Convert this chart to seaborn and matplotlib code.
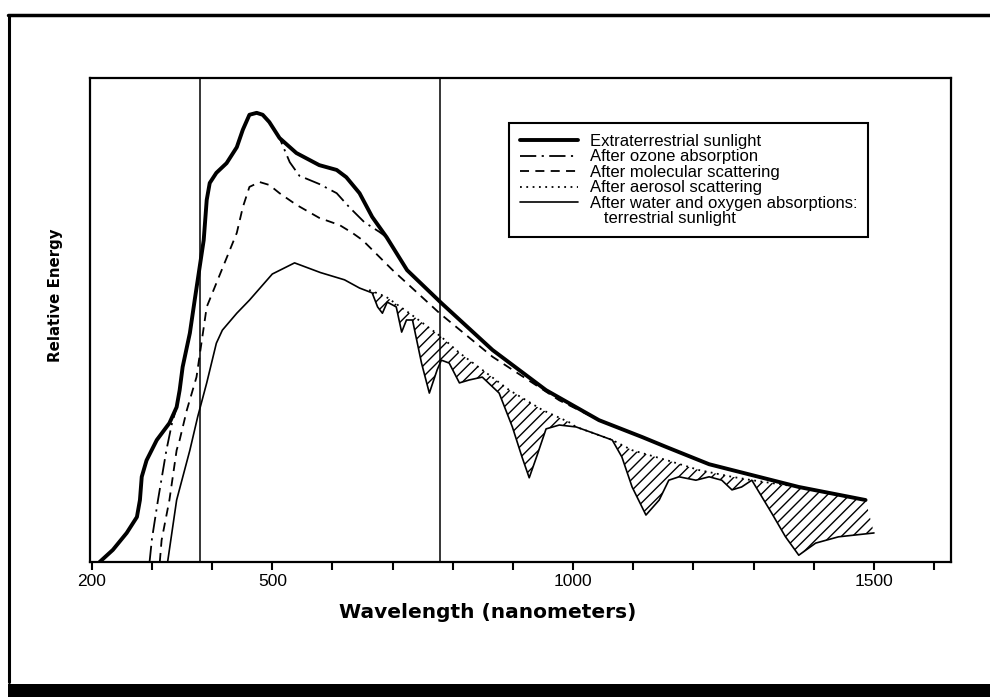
import numpy as np
import pandas as pd
import matplotlib
matplotlib.use('Agg')
import matplotlib.pyplot as plt
import seaborn as sns
from matplotlib.lines import Line2D
from matplotlib.patches import Rectangle

# wavelength (nm) / relative energy (0-100 of axis height)
sun_wl = [213, 235, 258, 275, 280, 283, 291, 308, 329, 341, 346, 351, 363, 371, 386, 391, 396, 407, 424, 441,
          451, 462, 474, 484, 495, 512, 540, 578, 607, 623, 645, 666, 690, 724, 781, 866, 955, 1043, 1115, 1154,
          1226, 1264, 1375, 1486]
sun_E = [0, 2.5, 6, 9.3, 12.8, 17.6, 21, 25.2, 28.7, 32, 35.5, 40.3, 47.3, 54.1, 66.5, 74.8, 78.3, 80.4, 82.4, 85.7,
         89.3, 92.4, 92.8, 92.4, 90.9, 87.6, 84.5, 82, 81, 79.5, 76.2, 71.3, 67.1, 60.3, 53.5, 43.8, 35.5, 29.3, 25.8, 23.8,
         20.2, 19, 15.5, 12.8]

ozone_wl = [296, 300, 310, 324, 333, 341, 346, 351, 363, 371, 386, 391, 396, 407, 424, 441, 451, 462, 474, 484, 495, 512,
            529, 545, 578, 607, 628, 653, 678, 690]
ozone_E = [0, 4.8, 12.8, 23.1, 28.5, 32, 35.5, 40.3, 47.3, 54.1, 66.5, 74.8, 78.3, 80.4, 82.4, 85.7, 89.3, 92.4, 92.8,
           92.4, 90.9, 87.6, 82.6, 79.8, 78.1, 76.2, 73.3, 70.2, 68.2, 67.1]

molec_wl = [313, 316, 329, 341, 346, 358, 374, 391, 441, 451, 462, 479, 495, 512, 540, 578, 612, 633, 650,
            700, 778, 866, 977, 1043]
molec_E = [0, 4.5, 12.8, 23.1, 25.2, 31.4, 38.2, 52.7, 68, 73.3, 77.5, 78.5, 77.9, 76.2, 73.8, 71.1, 69.6, 68, 66.5,
           60.3, 51.4, 42.4, 33.4, 29.3]

aerosol_wl = [661, 689, 728, 781, 811, 849, 894, 949, 993, 1005, 1032, 1065, 1098, 1154, 1209, 1264, 1297, 1375, 1486]
aerosol_E = [56.2, 54.8, 51.4, 46.5, 43.2, 39.7, 35.5, 31.4, 28.9, 27.9, 26.7, 25.2, 23.1, 21.1, 19, 17.6, 16.9, 15.5, 12.8]

terr_wl = [326, 341, 363, 376, 391, 407, 417, 441, 462, 500, 537, 580, 620, 645, 666, 675, 683, 691, 706, 715,
           723, 733, 748, 761, 774, 781, 794, 811, 827, 849, 877, 899, 915, 927, 940, 955, 977, 1005, 1032, 1065,
           1081, 1098, 1121, 1143, 1159, 1176, 1204, 1226, 1247, 1264, 1280, 1297, 1330, 1353, 1375, 1403, 1441, 1500]
terr_E = [0, 12.8, 23.1, 30, 37, 45.2, 47.9, 51.4, 54.1, 59.5, 61.8, 59.8, 58.3, 56.6, 55.6, 52.7, 51.4, 53.7, 52.7, 47.5,
          50, 50, 41.1, 34.9, 39.7, 41.7, 41.1, 37, 37.6, 38.2, 34.9, 27.9, 21.7, 17.4, 22, 27.5, 28.3, 27.9, 26.7, 25.2,
          21.7, 15.5, 9.7, 12.8, 16.9, 17.6, 16.9, 17.6, 16.9, 14.9, 15.5, 16.9, 10.1, 5.2, 1.4, 3.9, 5.2, 6.0]

visible_limits = [380, 778]
tick_values = list(range(200, 1700, 100))
tick_labels = ['200', '', '', '500', '', '', '', '', '1000', '', '', '', '', '1500', '']

labels = ['Extraterrestrial sunlight', 'After ozone absorption', 'After molecular scattering',
          'After aerosol scattering', 'After water and oxygen absorptions:']
label_extra = '   terrestrial sunlight'

sns.set_style('white')
plt.rcParams['font.family'] = ['Liberation Sans', 'DejaVu Sans']
plt.rcParams['hatch.linewidth'] = 1.0
plt.rcParams['text.color'] = 'black'
plt.rcParams['axes.labelcolor'] = 'black'
plt.rcParams['xtick.color'] = 'black'

fig = plt.figure(figsize=(9.9, 6.97), dpi=100)
ax = fig.add_axes([0.0909, 0.1937, 0.8697, 0.6944])

sns.lineplot(x=sun_wl, y=sun_E, ax=ax, color='black', linewidth=2.8, label=labels[0],
             sort=False, estimator=None, zorder=6)
sns.lineplot(x=ozone_wl, y=ozone_E, ax=ax, color='black', linewidth=1.3, label=labels[1],
             sort=False, estimator=None, linestyle=(0, (9, 3, 1.2, 3)), zorder=4)
sns.lineplot(x=molec_wl, y=molec_E, ax=ax, color='black', linewidth=1.3, label=labels[2],
             sort=False, estimator=None, linestyle=(0, (5, 3.5)), zorder=4)
sns.lineplot(x=aerosol_wl, y=aerosol_E, ax=ax, color='black', linewidth=1.3, label=labels[3],
             sort=False, estimator=None, linestyle=(0, (1, 2.5)), zorder=4)
sns.lineplot(x=terr_wl, y=terr_E, ax=ax, color='black', linewidth=1.2, label=labels[4],
             sort=False, estimator=None, zorder=5)

# hatched band: between aerosol curve and terrestrial curve
terr_wl_a = np.array(terr_wl)
terr_E_a = np.array(terr_E)
mask = terr_wl_a >= aerosol_wl[0]
poly_x = np.r_[aerosol_wl, terr_wl_a[mask][::-1]]
poly_y = np.r_[aerosol_E, terr_E_a[mask][::-1]]
ax.fill(poly_x, poly_y, facecolor='none', edgecolor='black', linewidth=0, hatch='///', zorder=3)

for v in visible_limits:
    ax.axvline(v, color='black', linewidth=1.1, zorder=2)

ax.set_xlim(197, 1628)
ax.set_ylim(0, 100)
ax.set_xticks(tick_values)
ax.set_xticklabels(tick_labels)
ax.set_yticks([])
ax.tick_params(axis='x', bottom=True, direction='out', length=6, width=1.5, labelsize=12.5, pad=3,
               color='black', labelcolor='black')
for s in ax.spines.values():
    s.set_linewidth(1.6)
    s.set_color('black')

ax.set_xlabel('Wavelength (nanometers)', fontsize=14.5, fontweight='bold', family='DejaVu Sans')
ax.xaxis.set_label_coords(0.462, -0.085)
ax.set_ylabel('Relative Energy', fontsize=10.8, fontweight='bold', family='DejaVu Sans')
ax.yaxis.set_label_coords(-0.031, 0.552)

handles, lbls = ax.get_legend_handles_labels()
handles.append(Line2D([], [], color='none'))
lbls.append(label_extra)
leg = ax.legend(handles, lbls, loc='upper left', bbox_to_anchor=(0.487, 0.907), borderaxespad=0,
                frameon=True, fancybox=False, edgecolor='black', fontsize=12, handlelength=3.5,
                labelspacing=0.03, borderpad=0.65, handletextpad=0.7, framealpha=1)
leg.get_frame().set_linewidth(1.5)

# outer frame of the scanned figure
fig.add_artist(Line2D([9 / 990, 9 / 990], [15 / 697, 1 - 15 / 697], transform=fig.transFigure,
                      color='black', linewidth=2.2))
fig.add_artist(Line2D([8 / 990, 1], [1 - 15 / 697, 1 - 15 / 697], transform=fig.transFigure,
                      color='black', linewidth=2.5))
fig.add_artist(Rectangle((8 / 990, 0), 1, 13 / 697, transform=fig.transFigure,
                         facecolor='black', edgecolor='none'))

fig.savefig('out.png', dpi=100)
